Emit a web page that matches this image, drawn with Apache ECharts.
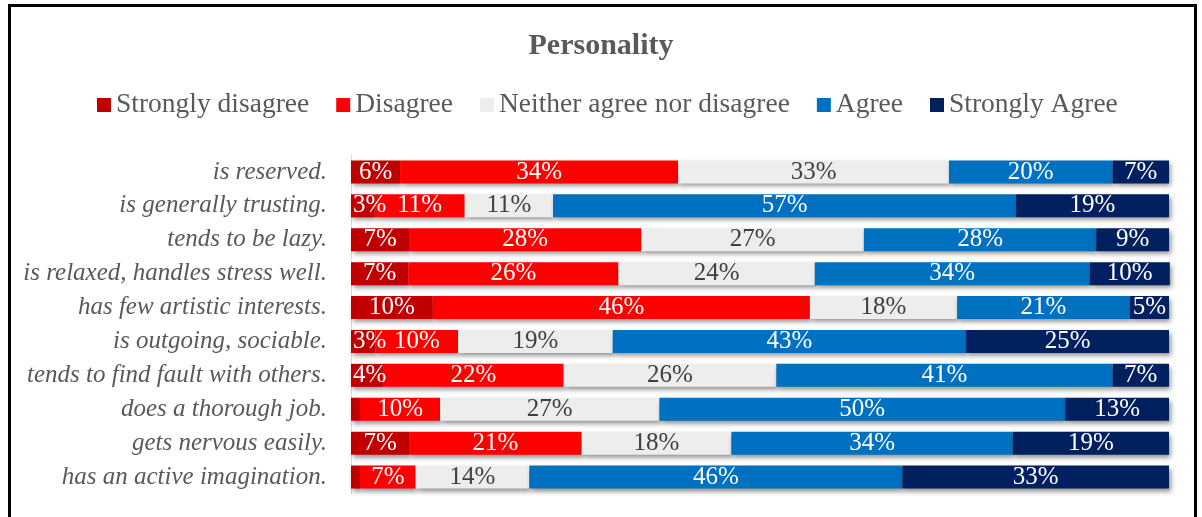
<!DOCTYPE html>
<html>
<head>
<meta charset="utf-8">
<title>Personality</title>
<script src="https://cdn.jsdelivr.net/npm/echarts@6/dist/echarts.min.js"></script>
<style>
  html, body { margin: 0; padding: 0; background: #fff; overflow: hidden; }
  #chart { position: absolute; left: 0; top: 0; width: 1202px; height: 517px; }
  #frame {
    position: absolute; left: 8px; top: 4px; width: 1189px; height: 600px;
    box-sizing: border-box; border: 3px solid #000; pointer-events: none;
  }
</style>
</head>
<body>
<div id="chart"></div>
<div id="frame"></div>
<script>
// Survey statements, top to bottom
const statements = [
  'is reserved.',
  'is generally trusting.',
  'tends to be lazy.',
  'is relaxed, handles stress well.',
  'has few artistic interests.',
  'is outgoing, sociable.',
  'tends to find fault with others.',
  'does a thorough job.',
  'gets nervous easily.',
  'has an active imagination.'
];

// Share of answers per statement (%), labels show the rounded value
const stronglyDisagree = [6.0, 2.9, 7.1, 7.0, 10.0, 3.0, 3.9, 1.1, 7.1, 1.1];
const disagree         = [34.0, 11.0, 28.4, 25.7, 46.1, 10.1, 22.1, 9.8, 21.1, 6.8];
const neither          = [33.1, 10.8, 27.2, 24.0, 18.0, 18.9, 26.0, 26.8, 18.3, 13.9];
const agree            = [20.0, 56.6, 28.4, 33.6, 21.1, 43.2, 41.1, 49.6, 34.4, 45.6];
const stronglyAgree    = [6.9, 18.7, 8.9, 9.8, 4.8, 24.8, 6.9, 12.7, 19.1, 32.6];

const seriesNames = ['Strongly disagree', 'Disagree', 'Neither agree nor disagree', 'Agree', 'Strongly Agree'];
const seriesColors = ['#C00000', '#FF0000', '#EDEDED', '#0070C0', '#002060'];
const labelColors = ['#ffffff', '#ffffff', '#404040', '#ffffff', '#ffffff'];
const seriesData = [stronglyDisagree, disagree, neither, agree, stronglyAgree];

const FONT = "'Liberation Serif', 'Times New Roman', serif";

const chart = echarts.init(document.getElementById('chart'), null, { renderer: 'canvas' });

const series = seriesNames.map((name, i) => ({
  name: name,
  type: 'bar',
  stack: 'total',
  barWidth: 23,
  clip: false,
  data: seriesData[i],
  itemStyle: {
    color: seriesColors[i],
    shadowColor: 'rgba(0,0,0,0.45)',
    shadowBlur: 5,
    shadowOffsetX: 2,
    shadowOffsetY: 3
  },
  label: {
    show: true,
    position: 'inside',
    color: labelColors[i],
    fontFamily: FONT,
    fontSize: 25,
    formatter: p => (p.value >= 2 ? Math.round(p.value) + '%' : '')
  },
  // keep narrow-segment labels from spilling left of the axis
  labelLayout: p => ({ dx: Math.max(0, 353 - p.labelRect.x) }),
  emphasis: { disabled: true },
  animation: false
}));

chart.setOption({
  backgroundColor: '#ffffff',
  animation: false,
  title: {
    text: 'Personality',
    left: 'center',
    top: 26,
    textStyle: { fontFamily: FONT, fontSize: 30, fontWeight: 'bold', color: '#595959' }
  },
  legend: {
    top: 91,
    left: 97,
    padding: 0,
    itemWidth: 14,
    itemHeight: 14,
    itemGap: 27,
    icon: 'rect',
    data: seriesNames,
    textStyle: { fontFamily: FONT, fontSize: 27.5, color: '#595959' }
  },
  grid: { left: 351, right: 33, top: 155, bottom: 23, containLabel: false },
  xAxis: {
    type: 'value',
    min: 0,
    max: 100,
    show: false
  },
  yAxis: {
    type: 'category',
    inverse: true,
    data: statements,
    axisLine: { show: true, lineStyle: { color: '#D9D9D9', width: 1 } },
    axisTick: { show: false },
    axisLabel: {
      margin: 24,
      fontFamily: FONT,
      fontSize: 25,
      fontStyle: 'italic',
      color: '#595959'
    }
  },
  series: series
});
</script>
</body>
</html>
